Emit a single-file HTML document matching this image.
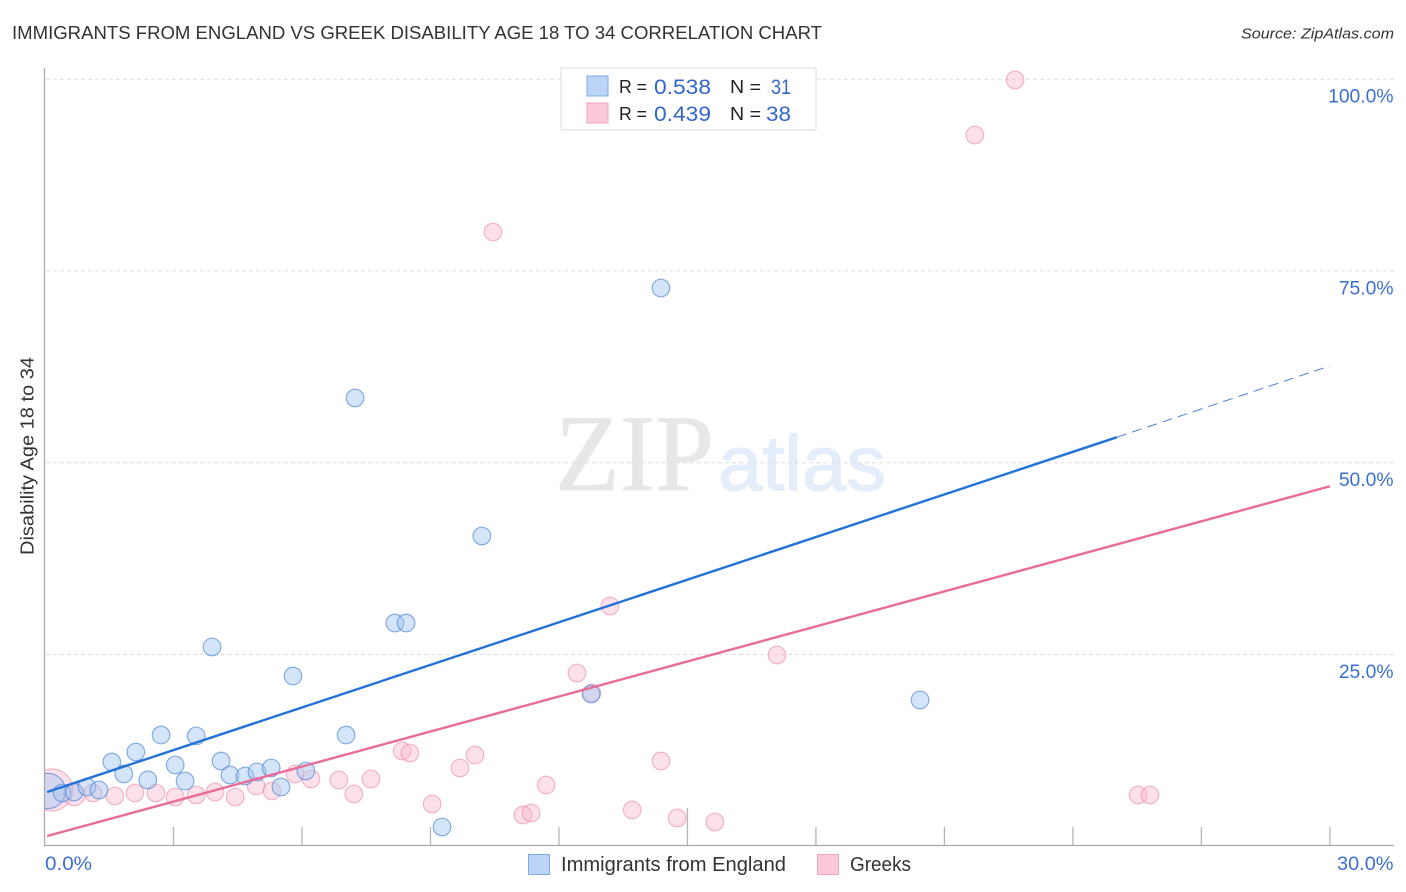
<!DOCTYPE html>
<html lang="en">
<head>
<meta charset="utf-8">
<title>Immigrants from England vs Greek Disability Age 18 to 34 Correlation Chart</title>
<style>
html,body{margin:0;padding:0;background:#fff;width:1406px;height:892px;overflow:hidden}
svg{display:block;font-family:"Liberation Sans",sans-serif}
</style>
</head>
<body>
<svg id="chart" width="1406" height="892" viewBox="0 0 1406 892" xmlns="http://www.w3.org/2000/svg">
  <defs>
    <clipPath id="plot-clip"><rect x="45" y="60" width="1350" height="786"/></clipPath>
  </defs>
  <rect x="0" y="0" width="1406" height="892" fill="#ffffff"/>
  <text x="12" y="39" font-size="18.5" fill="#333333" textLength="810" lengthAdjust="spacingAndGlyphs">IMMIGRANTS FROM ENGLAND VS GREEK DISABILITY AGE 18 TO 34 CORRELATION CHART</text>
  <text x="1241" y="38.5" font-size="15" font-style="italic" fill="#333333" textLength="153" lengthAdjust="spacingAndGlyphs">Source: ZipAtlas.com</text>

  <g>
    <text x="555" y="490" font-family="'Liberation Serif',serif" font-size="109" fill="#e7e7e7" stroke="#e7e7e7" stroke-width="0.8" textLength="159" lengthAdjust="spacingAndGlyphs">ZIP</text>
    <text x="718" y="490" font-size="78" fill="#e4edfa" stroke="#e4edfa" stroke-width="1.2" textLength="168" lengthAdjust="spacingAndGlyphs">atlas</text>
  </g>

  <g id="grid"></g>
  <g id="ticks"></g>
  <g id="points" clip-path="url(#plot-clip)"></g>
  <g id="trends"></g>

  <line x1="44.5" y1="68" x2="44.5" y2="846" stroke="#aaaaaa" stroke-width="1.3"/>
  <line x1="44" y1="845.5" x2="1394" y2="845.5" stroke="#aaaaaa" stroke-width="1.3"/>
  <g id="labels"></g>
  <text transform="translate(33.5,555) rotate(-90)" font-size="18.5" fill="#333333" textLength="198" lengthAdjust="spacingAndGlyphs">Disability Age 18 to 34</text>

  <g>
    <rect x="561" y="68" width="255" height="62" fill="#ffffff" stroke="#dddddd" stroke-width="1"/>
    <rect x="587" y="76" width="21" height="20" fill="#bcd5f7" stroke="#7fa9e0" stroke-width="1"/>
    <rect x="587" y="103" width="21" height="20" fill="#fcc9da" stroke="#f0a3bd" stroke-width="1"/>
    <text x="619" y="93" font-size="18.5" fill="#222222" textLength="28" lengthAdjust="spacingAndGlyphs">R =</text>
    <text x="654" y="94" font-size="21" fill="#3366cc" textLength="57" lengthAdjust="spacingAndGlyphs">0.538</text>
    <text x="730" y="93" font-size="18.5" fill="#222222" textLength="31" lengthAdjust="spacingAndGlyphs">N =</text>
    <text x="771" y="94" font-size="21" fill="#3366cc" textLength="20" lengthAdjust="spacingAndGlyphs">31</text>
    <text x="619" y="120" font-size="18.5" fill="#222222" textLength="28" lengthAdjust="spacingAndGlyphs">R =</text>
    <text x="654" y="121" font-size="21" fill="#3366cc" textLength="57" lengthAdjust="spacingAndGlyphs">0.439</text>
    <text x="730" y="120" font-size="18.5" fill="#222222" textLength="31" lengthAdjust="spacingAndGlyphs">N =</text>
    <text x="766" y="121" font-size="21" fill="#3366cc" textLength="25" lengthAdjust="spacingAndGlyphs">38</text>
  </g>

  <g>
    <g>
      <rect x="528.5" y="854.5" width="21" height="20" fill="#bcd5f7" stroke="#7fa9e0" stroke-width="1"/>
      <text x="561" y="871" font-size="20" fill="#333333" textLength="225" lengthAdjust="spacingAndGlyphs">Immigrants from England</text>
    </g>
    <g>
      <rect x="817.5" y="854.5" width="21" height="20" fill="#fcc9da" stroke="#f0a3bd" stroke-width="1"/>
      <text x="850" y="871" font-size="20" fill="#333333" textLength="61" lengthAdjust="spacingAndGlyphs">Greeks</text>
    </g>
  </g>
</svg>
<script>
const englandX = [0.07,0.40,0.68,0.98,1.26,1.56,1.84,2.12,2.40,2.71,3.04,3.27,3.53,3.90,4.11,4.32,4.67,4.95,5.28,5.51,5.79,6.09,7.03,7.24,8.17,8.43,9.27,10.20,12.75,14.38,20.43];
const englandY = [7.17,6.91,7.04,7.69,7.30,10.95,9.39,12.26,8.61,14.47,10.56,8.47,14.34,25.95,11.08,9.26,9.13,9.65,10.17,7.69,22.16,9.78,14.47,58.41,29.07,29.07,2.48,40.42,19.82,72.75,19.04];
const englandWeight = [4,1,1,1,1,1,1,1,1,1,1,1,1,1,1,1,1,1,1,1,1,1,1,1,1,1,1,1,1,1,1];
const greeksX = [0.16,0.68,1.12,1.63,2.10,2.59,3.04,3.53,3.97,4.44,4.93,5.30,5.84,6.21,6.86,7.21,7.61,8.34,8.52,9.04,9.69,10.04,10.46,11.16,11.35,11.70,12.42,12.77,13.19,13.71,14.38,14.76,15.64,17.09,21.71,22.65,25.52,25.80];
const greeksY = [7.30,6.65,6.91,6.52,6.91,6.91,6.39,6.65,7.04,6.39,7.82,7.17,9.39,8.74,8.61,6.78,8.74,12.39,12.13,5.48,10.17,11.86,80.05,4.04,4.30,7.95,22.56,19.95,31.29,4.69,11.08,3.65,3.13,24.90,92.70,99.87,6.65,6.65];
const greeksWeight = [5.7,1.5,1,1,1,1,1,1,1,1,1,1,1,1,1,1,1,1,1,1,1,1,1,1,1,1,1,1,1,1,1,1,1,1,1,1,1,1];
const englandTrendX = [0.05,25.03,30];
const englandTrendY = [7.04,53.3,62.6];
const greeksTrendX = [0.05,30];
const greeksTrendY = [1.3,46.9];
const yTicks = [25,50,75,100];
const yTickLabels = ["25.0%","50.0%","75.0%","100.0%"];
const xTicks = [3,6,9,12,15,18,21,24,27,30];
const xTickLabels = ["0.0%","30.0%"];

const NS = "http://www.w3.org/2000/svg";
const sx = v => 45 + v * 42.83;
const sy = v => 846 - v * 7.67;
function mk(parent, tag, props) {
  const el = document.createElementNS(NS, tag);
  for (const k in props) el.setAttribute(k, props[k]);
  parent.appendChild(el);
  return el;
}
const grid = document.getElementById("grid");
const ticks = document.getElementById("ticks");
const points = document.getElementById("points");
const trends = document.getElementById("trends");
const labels = document.getElementById("labels");

yTicks.forEach((t, i) => {
  const ln = mk(grid, "line", {x1: 46, x2: 1394, y1: sy(t) + 0.3, y2: sy(t) + 0.3, stroke: "#dddddd", "stroke-width": 1, "stroke-dasharray": "4 3"});
  
  
  const tx = mk(labels, "text", {x: 1393.5, y: sy(t) + 23.5, "text-anchor": "end", "font-size": 19.3, fill: "#3b6fd0"});
  tx.textContent = yTickLabels[i];
  
  
});

xTicks.forEach(t => {
  const top = t === 15 ? 808 : 827;
  const ln = mk(ticks, "line", {x1: sx(t), x2: sx(t), y1: top, y2: 846, stroke: "#b5b5b5", "stroke-width": 1.3});
  
  
});

const xLabelLeft = mk(labels, "text", {x: 45, y: 870, "font-size": 19.3, fill: "#3b6fd0", textLength: 47, lengthAdjust: "spacingAndGlyphs"});
xLabelLeft.textContent = xTickLabels[0];


const xLabelRight = mk(labels, "text", {x: 1337, y: 870, "font-size": 19.3, fill: "#3b6fd0", textLength: 56.5, lengthAdjust: "spacingAndGlyphs"});
xLabelRight.textContent = xTickLabels[1];



greeksX.forEach((v, i) => {
  const c = mk(points, "circle", {cx: sx(v), cy: sy(greeksY[i]), r: 8.8 * Math.sqrt(greeksWeight[i]), fill: "#f9b4cb", "fill-opacity": 0.4, stroke: "#ea7fa3", "stroke-opacity": 0.55, "stroke-width": 1.2});
  
  
});
englandX.forEach((v, i) => {
  const c = mk(points, "circle", {cx: sx(v), cy: sy(englandY[i]), r: 8.8 * Math.sqrt(englandWeight[i]), fill: "#a4c6f2", "fill-opacity": 0.46, stroke: "#4a86d6", "stroke-opacity": 0.65, "stroke-width": 1.2});
  
  
});

const blueSolid = mk(trends, "line", {x1: sx(englandTrendX[0]), y1: sy(englandTrendY[0]), x2: sx(englandTrendX[1]), y2: sy(englandTrendY[1]), stroke: "#2272d8", "stroke-width": 2.4});


const blueDash = mk(trends, "line", {x1: sx(englandTrendX[1]), y1: sy(englandTrendY[1]), x2: sx(englandTrendX[2]), y2: sy(englandTrendY[2]), stroke: "#4f82cc", "stroke-width": 1, "stroke-dasharray": "10 6"});


const pinkLine = mk(trends, "line", {x1: sx(greeksTrendX[0]), y1: sy(greeksTrendY[0]), x2: sx(greeksTrendX[1]), y2: sy(greeksTrendY[1]), stroke: "#e96c98", "stroke-width": 2.4});


</script>
</body>
</html>
